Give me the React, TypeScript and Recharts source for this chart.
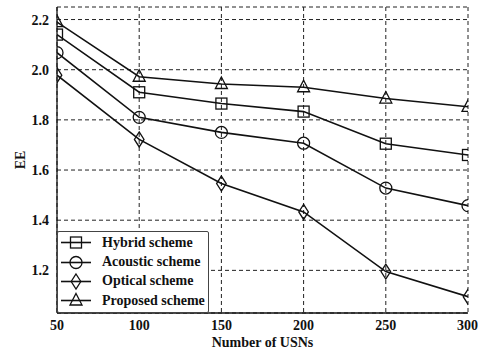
import React from 'react';
import {
  LineChart,
  Line,
  XAxis,
  YAxis,
  CartesianGrid,
  Legend,
  Label,
} from 'recharts';

// EE versus number of USNs for the four schemes
const usns = [50, 100, 150, 200, 250, 300];
const hybrid = [2.14, 1.91, 1.865, 1.833, 1.705, 1.66];
const acoustic = [2.068, 1.81, 1.75, 1.707, 1.528, 1.458];
const optical = [1.978, 1.722, 1.546, 1.433, 1.195, 1.095];
const proposed = [2.19, 1.972, 1.943, 1.93, 1.885, 1.852];

const xTicks = [50, 100, 150, 200, 250, 300];
const yTicks = [1.2, 1.4, 1.6, 1.8, 2.0, 2.2];

const data = usns.map((n, i) => ({
  n,
  hybrid: hybrid[i],
  acoustic: acoustic[i],
  optical: optical[i],
  proposed: proposed[i],
}));

type Shape = 'square' | 'circle' | 'diamond' | 'triangle';

const series: { key: string; name: string; shape: Shape }[] = [
  { key: 'hybrid', name: 'Hybrid scheme', shape: 'square' },
  { key: 'acoustic', name: 'Acoustic scheme', shape: 'circle' },
  { key: 'optical', name: 'Optical scheme', shape: 'diamond' },
  { key: 'proposed', name: 'Proposed scheme', shape: 'triangle' },
];

const FONT = '"Liberation Serif", "Times New Roman", serif';
const INK = '#111';

function Marker({ cx, cy, shape }: { cx: number; cy: number; shape: Shape }) {
  const common = { fill: 'none', stroke: INK, strokeWidth: 1.3 };
  if (shape === 'square') return <rect x={cx - 5.5} y={cy - 5.5} width={11} height={11} {...common} />;
  if (shape === 'circle') return <circle cx={cx} cy={cy} r={6} {...common} />;
  if (shape === 'diamond')
    return <polygon points={`${cx},${cy - 7.5} ${cx + 4.8},${cy} ${cx},${cy + 7.5} ${cx - 4.8},${cy}`} {...common} />;
  return <polygon points={`${cx},${cy - 7} ${cx + 6},${cy + 4.5} ${cx - 6},${cy + 4.5}`} {...common} />;
}

const dotFor = (shape: Shape) => (props: any) => {
  const { cx, cy, index } = props;
  if (cx == null || cy == null) return <g key={index} />;
  return (
    <g key={`${shape}-${index}`}>
      <Marker cx={cx} cy={cy} shape={shape} />
    </g>
  );
};

function LegendBox() {
  return (
    <div
      style={{
        width: 152,
        height: 82,
        boxSizing: 'border-box',
        border: '1.5px solid #444',
        borderRadius: 2,
        background: '#fff',
        paddingTop: 1,
        fontFamily: FONT,
        fontWeight: 'bold',
        fontSize: 14,
        color: INK,
      }}
    >
      {series.map((s) => (
        <div key={s.key} style={{ display: 'flex', alignItems: 'center', height: 19.4, paddingLeft: 3 }}>
          <svg width={30} height={19} style={{ flexShrink: 0 }}>
            <line x1={0} y1={9.5} x2={30} y2={9.5} stroke={INK} strokeWidth={1.6} />
            <Marker cx={15} cy={9.5} shape={s.shape} />
          </svg>
          <span style={{ marginLeft: 11, whiteSpace: 'nowrap' }}>{s.name}</span>
        </div>
      ))}
    </div>
  );
}

const tickStyle = { fontFamily: FONT, fontWeight: 'bold' as const, fontSize: 14, fill: INK };

export default function App() {
  return (
    <div style={{ position: 'absolute', left: 0, top: 0, width: 478, height: 354, background: '#fff' }}>
      <LineChart width={478} height={354} data={data} margin={{ top: 7, right: 10, bottom: 0, left: 0 }}>
        <CartesianGrid stroke="#222" strokeDasharray="4 3" strokeWidth={1} />
        <XAxis
          dataKey="n"
          type="number"
          domain={[50, 300]}
          ticks={xTicks}
          allowDataOverflow
          height={41}
          tickSize={0}
          tickMargin={7}
          tick={tickStyle}
          axisLine={{ stroke: INK, strokeWidth: 1.3 }}
        >
          <Label
            value="Number of USNs"
            position="insideBottom"
            offset={7}
            style={{ fontFamily: FONT, fontWeight: 'bold', fontSize: 14, fill: INK }}
          />
        </XAxis>
        <XAxis
          xAxisId="top"
          orientation="top"
          dataKey="n"
          type="number"
          domain={[50, 300]}
          height={0}
          tick={false}
          tickLine={false}
          axisLine={{ stroke: INK, strokeWidth: 1.3 }}
        />
        <YAxis
          type="number"
          domain={[1.03, 2.25]}
          ticks={yTicks}
          allowDataOverflow
          width={57}
          tickSize={0}
          tickMargin={8}
          tick={tickStyle}
          tickFormatter={(v: number) => v.toFixed(1)}
          axisLine={{ stroke: INK, strokeWidth: 1.3 }}
        >
          <Label
            content={(props: any) => {
              const vb = props.viewBox || { x: 0, y: 7, width: 57, height: 306 };
              const x = vb.x + 20;
              const y = vb.y + vb.height / 2;
              return (
                <text
                  x={x}
                  y={y}
                  transform={`rotate(-90 ${x} ${y})`}
                  textAnchor="middle"
                  dominantBaseline="central"
                  style={{ fontFamily: FONT, fontWeight: 'bold', fontSize: 14, fill: INK }}
                >
                  EE
                </text>
              );
            }}
          />
        </YAxis>
        <YAxis
          yAxisId="right"
          orientation="right"
          type="number"
          domain={[1.03, 2.25]}
          width={0}
          tick={false}
          tickLine={false}
          axisLine={{ stroke: '#777', strokeWidth: 2 }}
        />
        {series.map((s) => (
          <Line
            key={s.key}
            type="linear"
            dataKey={s.key}
            name={s.name}
            stroke={INK}
            strokeWidth={1.6}
            dot={dotFor(s.shape)}
            activeDot={false}
            isAnimationActive={false}
          />
        ))}
        <Legend
          layout="vertical"
          align="center"
          verticalAlign="middle"
          content={() => <LegendBox />}
          wrapperStyle={{ left: 57, top: 231, width: 152, height: 82, right: 'auto', bottom: 'auto' }}
        />
      </LineChart>
    </div>
  );
}
